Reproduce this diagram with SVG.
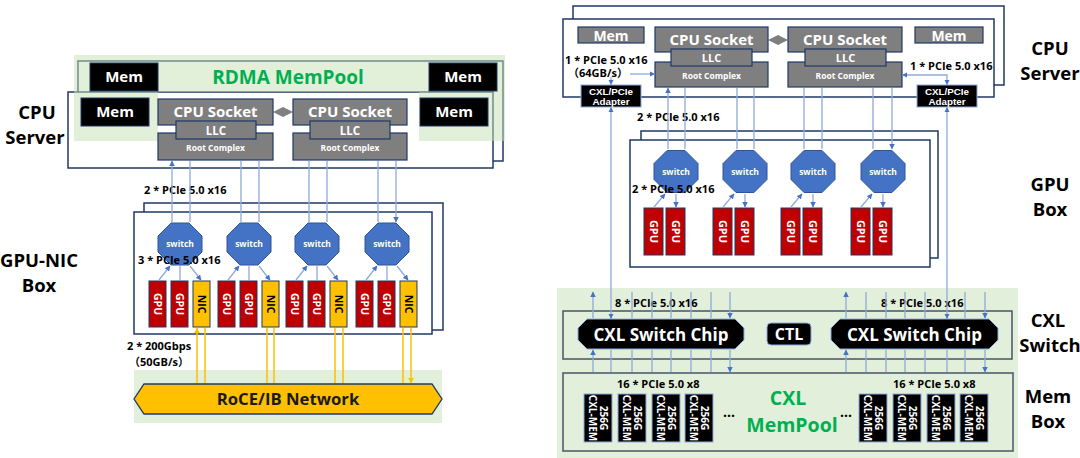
<svg xmlns="http://www.w3.org/2000/svg" width="1080" height="458" viewBox="0 0 1080 458">
<style>
text{font-family:"Open Sans","Noto Sans","Noto Sans CJK SC",sans-serif;font-weight:700}
.box{fill:#fff;stroke:#1f3864;stroke-width:1.5}
.mem{fill:#000;stroke:#1f3864;stroke-width:1}
.gray{fill:#7f7f7f;stroke:#1f3864;stroke-width:1.2}
.sw{fill:#4472c4;stroke:#2f5597;stroke-width:1}
.gpu{fill:#c00000;stroke:#1f3864;stroke-width:1}
.nic{fill:#ffc000;stroke:#1f3864;stroke-width:1}
.chip{fill:#000;stroke:#8faadc;stroke-width:1}
.frame{fill:none;stroke:#44546a;stroke-width:1.5}
.w{fill:#fff}
.k{fill:#000}
.g{fill:#00b050}
.c{text-anchor:middle}
.ad{font-family:"Liberation Sans",Arial,sans-serif;font-size:9.8px}
.ln{stroke:#8faadc;stroke-width:1.3;fill:none;marker-start:url(#ab);marker-end:url(#ab)}
.le{stroke:#8faadc;stroke-width:1.3;fill:none;marker-end:url(#ab)}
.yl{stroke:#ffc000;stroke-width:1.5;fill:none;marker-start:url(#ay);marker-end:url(#ay)}
.bg{fill:#e2efda}
</style>
<defs>
<marker id="ab" viewBox="0 0 10 10" refX="9" refY="5" markerWidth="5.5" markerHeight="5.5" markerUnits="userSpaceOnUse" orient="auto-start-reverse"><path d="M0,0L10,5L0,10z" fill="#4472c4"/></marker>
<marker id="ay" viewBox="0 0 10 10" refX="9" refY="5" markerWidth="6" markerHeight="6" markerUnits="userSpaceOnUse" orient="auto-start-reverse"><path d="M0,0L10,5L0,10z" fill="#ffc000"/></marker>
<polygon id="oct" points="-9,-21 9,-21 22,-8 22,8 9,21 -9,21 -22,8 -22,-8"/>
</defs>

<!-- ================= LEFT: RDMA ================= -->
<g id="left-cpu-server">
  <rect class="box" x="78" y="61" width="425" height="100"/>
  <rect class="box" x="68" y="92" width="425" height="76"/>
  <path d="M74,55H505V141H419V92H158V141H74Z" fill="#c5e0b4" opacity="0.5"/>
  <rect class="mem" x="90" y="63" width="68" height="28"/>
  <text class="w c" x="124" y="82" font-size="15">Mem</text>
  <rect class="mem" x="429" y="63" width="68" height="28"/>
  <text class="w c" x="463" y="82" font-size="15">Mem</text>
  <text class="g c" x="288" y="84" font-size="19">RDMA MemPool</text>
  <rect class="mem" x="81" y="98" width="68" height="28"/>
  <text class="w c" x="115" y="117" font-size="15">Mem</text>
  <rect class="mem" x="420" y="98" width="68" height="28"/>
  <text class="w c" x="454" y="117" font-size="15">Mem</text>
  <polygon points="273,112 283,107 293,112 283,117" fill="#7f7f7f"/>
  <rect class="gray" x="158" y="99" width="115" height="26"/>
  <rect class="gray" x="158" y="133" width="115" height="27"/>
  <rect class="gray" x="176" y="121" width="80" height="18"/>
  <text class="w c" x="215.5" y="117" font-size="15">CPU Socket</text>
  <text class="w c" x="216" y="134.5" font-size="11.5">LLC</text>
  <text class="w c" x="215.5" y="151" font-size="8.5">Root Complex</text>
  <rect class="gray" x="293" y="99" width="114" height="26"/>
  <rect class="gray" x="293" y="133" width="114" height="27"/>
  <rect class="gray" x="310" y="121" width="80" height="18"/>
  <text class="w c" x="350" y="117" font-size="15">CPU Socket</text>
  <text class="w c" x="350" y="134.5" font-size="11.5">LLC</text>
  <text class="w c" x="350" y="151" font-size="8.5">Root Complex</text>
</g>
<g id="left-labels">
  <text class="k c" x="37" y="119" font-size="18.5">CPU</text>
  <text class="k c" x="35" y="144" font-size="18.5">Server</text>
  <text class="k c" x="39" y="267" font-size="18.5">GPU-NIC</text>
  <text class="k c" x="39" y="292" font-size="18.5">Box</text>
  <text class="k" x="144" y="194" font-size="11">2 * PCIe 5.0 x16</text>
  <text class="k" x="127" y="350" font-size="11">2 * 200Gbps</text>
  <text class="k" x="129" y="366" font-size="11">（50GB/s）</text>
</g>
<g id="gpu-nic-box">
  <rect class="box" x="144" y="203" width="299" height="127"/>
  <rect class="box" x="134" y="212" width="298" height="122"/>
  <use href="#oct" class="sw" x="180" y="244"/>
  <use href="#oct" class="sw" x="249" y="244"/>
  <use href="#oct" class="sw" x="317" y="244"/>
  <use href="#oct" class="sw" x="387" y="244"/>
  <text class="w c" x="180" y="247" font-size="8.5">switch</text>
  <text class="w c" x="249" y="247" font-size="8.5">switch</text>
  <text class="w c" x="317" y="247" font-size="8.5">switch</text>
  <text class="w c" x="387" y="247" font-size="8.5">switch</text>
  <rect class="gpu" x="149" y="281" width="17" height="46"/>
  <rect class="gpu" x="171" y="281" width="17" height="46"/>
  <rect class="nic" x="193" y="281" width="17" height="46"/>
  <rect class="gpu" x="218" y="281" width="17" height="46"/>
  <rect class="gpu" x="240" y="281" width="17" height="46"/>
  <rect class="nic" x="262" y="281" width="17" height="46"/>
  <rect class="gpu" x="286" y="281" width="17" height="46"/>
  <rect class="gpu" x="308" y="281" width="17" height="46"/>
  <rect class="nic" x="330" y="281" width="17" height="46"/>
  <rect class="gpu" x="356" y="281" width="17" height="46"/>
  <rect class="gpu" x="378" y="281" width="17" height="46"/>
  <rect class="nic" x="400" y="281" width="17" height="46"/>
  <g font-size="10.5">
    <text class="w c" transform="translate(157.5,304) rotate(90)" y="4">GPU</text>
    <text class="w c" transform="translate(179.5,304) rotate(90)" y="4">GPU</text>
    <text class="k c" transform="translate(201.5,304) rotate(90)" y="4">NIC</text>
    <text class="w c" transform="translate(226.5,304) rotate(90)" y="4">GPU</text>
    <text class="w c" transform="translate(248.5,304) rotate(90)" y="4">GPU</text>
    <text class="k c" transform="translate(270.5,304) rotate(90)" y="4">NIC</text>
    <text class="w c" transform="translate(294.5,304) rotate(90)" y="4">GPU</text>
    <text class="w c" transform="translate(316.5,304) rotate(90)" y="4">GPU</text>
    <text class="k c" transform="translate(338.5,304) rotate(90)" y="4">NIC</text>
    <text class="w c" transform="translate(364.5,304) rotate(90)" y="4">GPU</text>
    <text class="w c" transform="translate(386.5,304) rotate(90)" y="4">GPU</text>
    <text class="k c" transform="translate(408.5,304) rotate(90)" y="4">NIC</text>
  </g>
  <text class="k" x="138" y="264" font-size="11">3 * PCIe 5.0 x16</text>
</g>
<g id="roce-network">
  <rect class="bg" x="134" y="370" width="308" height="53"/>
  <polygon points="144,384 432,384 442,399 432,414 144,414 134,399" fill="#ffc000" stroke="#1f3864" stroke-width="1.3"/>
  <text class="c" x="288" y="405" font-size="16.7" fill="#1a1a1a">RoCE/IB Network</text>
</g>

<!-- ================= RIGHT: CXL ================= -->
<g id="right-cpu-server">
  <rect class="box" x="573" y="6" width="431" height="79"/>
  <rect class="box" x="563" y="19" width="431" height="78"/>
  <rect class="gray" x="578" y="27" width="66" height="16"/>
  <text class="w c" x="611" y="40.5" font-size="14">Mem</text>
  <rect class="gray" x="915" y="27" width="68" height="16"/>
  <text class="w c" x="949" y="40.5" font-size="14">Mem</text>
  <polygon points="768,40 778,35 788,40 778,45" fill="#7f7f7f"/>
  <rect class="gray" x="655" y="27" width="113" height="25"/>
  <rect class="gray" x="655" y="62" width="113" height="25"/>
  <rect class="gray" x="671" y="49" width="81" height="17"/>
  <text class="w c" x="711.5" y="45" font-size="15">CPU Socket</text>
  <text class="w c" x="711.5" y="62" font-size="11">LLC</text>
  <text class="w c" x="711.5" y="79" font-size="8.5">Root Complex</text>
  <rect class="gray" x="788" y="27" width="114" height="25"/>
  <rect class="gray" x="788" y="62" width="114" height="25"/>
  <rect class="gray" x="805" y="49" width="81" height="17"/>
  <text class="w c" x="845" y="45" font-size="15">CPU Socket</text>
  <text class="w c" x="845.5" y="62" font-size="11">LLC</text>
  <text class="w c" x="845" y="79" font-size="8.5">Root Complex</text>
  <text class="k" x="565" y="64" font-size="11">1 * PCIe 5.0 x16</text>
  <text class="k" x="568" y="77" font-size="11">（64GB/s）</text>
  <text class="k" x="910" y="70" font-size="11">1 * PCIe 5.0 x16</text>
  <rect x="581" y="85" width="60" height="22" fill="#000" stroke="#8faadc" stroke-width="1"/>
  <text class="w c ad" x="611" y="94.5">CXL/PCIe</text>
  <text class="w c ad" x="611" y="105">Adapter</text>
  <rect x="917" y="85" width="60" height="22" fill="#000" stroke="#8faadc" stroke-width="1"/>
  <text class="w c ad" x="947" y="94.5">CXL/PCIe</text>
  <text class="w c ad" x="947" y="105">Adapter</text>
</g>
<g id="right-labels">
  <text class="k c" x="1050" y="55" font-size="18.5">CPU</text>
  <text class="k c" x="1050" y="80" font-size="18.5">Server</text>
  <text class="k c" x="1050" y="191" font-size="18.5">GPU</text>
  <text class="k c" x="1050" y="216" font-size="18.5">Box</text>
  <text class="k c" x="1048" y="327" font-size="18.5">CXL</text>
  <text class="k c" x="1050" y="352" font-size="18.5">Switch</text>
  <text class="k c" x="1048" y="403" font-size="18.5">Mem</text>
  <text class="k c" x="1048" y="428" font-size="18.5">Box</text>
  <text class="k" x="637" y="121" font-size="11">2 * PCIe 5.0 x16</text>
</g>
<g id="gpu-box">
  <rect class="box" x="641" y="131" width="297" height="127"/>
  <rect class="box" x="630" y="140" width="300" height="127"/>
  <use href="#oct" class="sw" x="676" y="171.5"/>
  <use href="#oct" class="sw" x="745" y="171.5"/>
  <use href="#oct" class="sw" x="813" y="171.5"/>
  <use href="#oct" class="sw" x="883" y="171.5"/>
  <text class="w c" x="676" y="174.5" font-size="8.5">switch</text>
  <text class="w c" x="745" y="174.5" font-size="8.5">switch</text>
  <text class="w c" x="813" y="174.5" font-size="8.5">switch</text>
  <text class="w c" x="883" y="174.5" font-size="8.5">switch</text>
  <rect class="gpu" x="644" y="208" width="19" height="47"/>
  <rect class="gpu" x="666" y="208" width="19" height="47"/>
  <rect class="gpu" x="713" y="208" width="19" height="47"/>
  <rect class="gpu" x="735" y="208" width="19" height="47"/>
  <rect class="gpu" x="781" y="208" width="19" height="47"/>
  <rect class="gpu" x="803" y="208" width="19" height="47"/>
  <rect class="gpu" x="851" y="208" width="19" height="47"/>
  <rect class="gpu" x="873" y="208" width="19" height="47"/>
  <g font-size="11">
    <text class="w c" transform="translate(653.5,231.5) rotate(90)" y="4">GPU</text>
    <text class="w c" transform="translate(675.5,231.5) rotate(90)" y="4">GPU</text>
    <text class="w c" transform="translate(722.5,231.5) rotate(90)" y="4">GPU</text>
    <text class="w c" transform="translate(744.5,231.5) rotate(90)" y="4">GPU</text>
    <text class="w c" transform="translate(790.5,231.5) rotate(90)" y="4">GPU</text>
    <text class="w c" transform="translate(812.5,231.5) rotate(90)" y="4">GPU</text>
    <text class="w c" transform="translate(860.5,231.5) rotate(90)" y="4">GPU</text>
    <text class="w c" transform="translate(882.5,231.5) rotate(90)" y="4">GPU</text>
  </g>
  <text class="k" x="632" y="193" font-size="11">2 * PCIe 5.0 x16</text>
</g>
<g id="cxl-switch">
  <rect class="bg" x="557" y="288" width="461" height="170"/>
  <rect class="frame" x="563" y="311" width="449" height="48"/>
  <polygon class="chip" points="587,319 735,319 744,328 744,340 735,349 587,349 578,340 578,328"/>
  <text class="w c" x="661" y="340.5" font-size="17">CXL Switch Chip</text>
  <rect x="767" y="323" width="44" height="22" rx="4" fill="#000" stroke="#8faadc" stroke-width="1"/>
  <text class="w c" x="789" y="340" font-size="16">CTL</text>
  <polygon class="chip" points="840,319 989,319 998,328 998,340 989,349 840,349 831,340 831,328"/>
  <text class="w c" x="914.5" y="340.5" font-size="17">CXL Switch Chip</text>
  <text class="k" x="615" y="307" font-size="11">8 * PCIe 5.0 x16</text>
  <text class="k" x="881" y="307" font-size="11">8 * PCIe 5.0 x16</text>
</g>
<g id="mem-box">
  <rect class="frame" x="563" y="373" width="450" height="78"/>
  <text class="k" x="617" y="388" font-size="11">16 * PCIe 5.0 x8</text>
  <text class="k" x="893" y="388" font-size="11">16 * PCIe 5.0 x8</text>
  <g id="mem-chips">
    <rect class="chip" x="584" y="394" width="28" height="48"/>
    <rect class="chip" x="618" y="394" width="28" height="48"/>
    <rect class="chip" x="652" y="394" width="28" height="48"/>
    <rect class="chip" x="685" y="394" width="28" height="48"/>
    <rect class="chip" x="859" y="394" width="28" height="48"/>
    <rect class="chip" x="893" y="394" width="28" height="48"/>
    <rect class="chip" x="927" y="394" width="28" height="48"/>
    <rect class="chip" x="960" y="394" width="28" height="48"/>
    <g font-size="10" class="w c">
      <g transform="translate(598,418) rotate(90)"><text y="-2">256G</text><text y="9">CXL-MEM</text></g>
      <g transform="translate(632,418) rotate(90)"><text y="-2">256G</text><text y="9">CXL-MEM</text></g>
      <g transform="translate(666,418) rotate(90)"><text y="-2">256G</text><text y="9">CXL-MEM</text></g>
      <g transform="translate(699,418) rotate(90)"><text y="-2">256G</text><text y="9">CXL-MEM</text></g>
      <g transform="translate(873,418) rotate(90)"><text y="-2">256G</text><text y="9">CXL-MEM</text></g>
      <g transform="translate(907,418) rotate(90)"><text y="-2">256G</text><text y="9">CXL-MEM</text></g>
      <g transform="translate(941,418) rotate(90)"><text y="-2">256G</text><text y="9">CXL-MEM</text></g>
      <g transform="translate(974,418) rotate(90)"><text y="-2">256G</text><text y="9">CXL-MEM</text></g>
    </g>
  </g>
  <text class="k c" x="729" y="421" font-size="14">···</text>
  <text class="k c" x="846" y="421" font-size="14">···</text>
  <text class="g c" x="788" y="405" font-size="19.5">CXL</text>
  <text class="g c" x="792" y="432" font-size="19.5">MemPool</text>
</g>

<g id="connectors">
  <path class="ln" d="M172,161V222M190,161V222M241,161V222M259,161V222M309,161V222M327,161V222M378,161V222M396,161V222"/>
  <path class="ln" d="M170,266L159,280M180,266V280M190,266L201,280"/>
  <path class="ln" d="M239,266L228,280M249,266V280M259,266L270,280"/>
  <path class="ln" d="M307,266L296,280M317,266V280M327,266L338,280"/>
  <path class="ln" d="M377,266L366,280M387,266V280M397,266L408,280"/>
  <path class="yl" d="M197,328V383M205,328V383M267,328V383M274,328V383M335,328V383M343,328V383M403,328V383M411,328V383"/>
  <path class="ln" d="M668,88V149M685,88V149M737,88V149M754,88V149M804,88V149M822,88V149M873,88V149M892,88V149"/>
  <path class="ln" d="M665,194L654,207M676,194V207"/>
  <path class="ln" d="M734,194L723,207M745,194V207"/>
  <path class="ln" d="M802,194L791,207M813,194V207"/>
  <path class="ln" d="M872,194L861,207M883,194V207"/>
  <path class="le" d="M611,77V84.5"/>
  <path class="le" d="M630,74H654.5"/>
  <path class="ln" d="M947,84.5V75H902.5"/>
  <path class="ln" d="M611,107.5V318.5"/>
  <path class="ln" d="M947,107.5V318.5"/>
  <path class="ln" d="M593,292V318M632,292V318M652,292V318M671,292V318M691,292V318M711,292V318M730,292V318"/>
  <path class="ln" d="M846,292V318M866,292V318M886,292V318M905,292V318M925,292V318M965,292V318M985,292V318"/>
  <path class="ln" d="M593,350V372M611,350V372M632,350V372M652,350V372M671,350V372M691,350V372M711,350V372M730,350V372"/>
  <path class="ln" d="M846,350V372M866,350V372M886,350V372M905,350V372M925,350V372M947,350V372M965,350V372M985,350V372"/>
</g>
</svg>
